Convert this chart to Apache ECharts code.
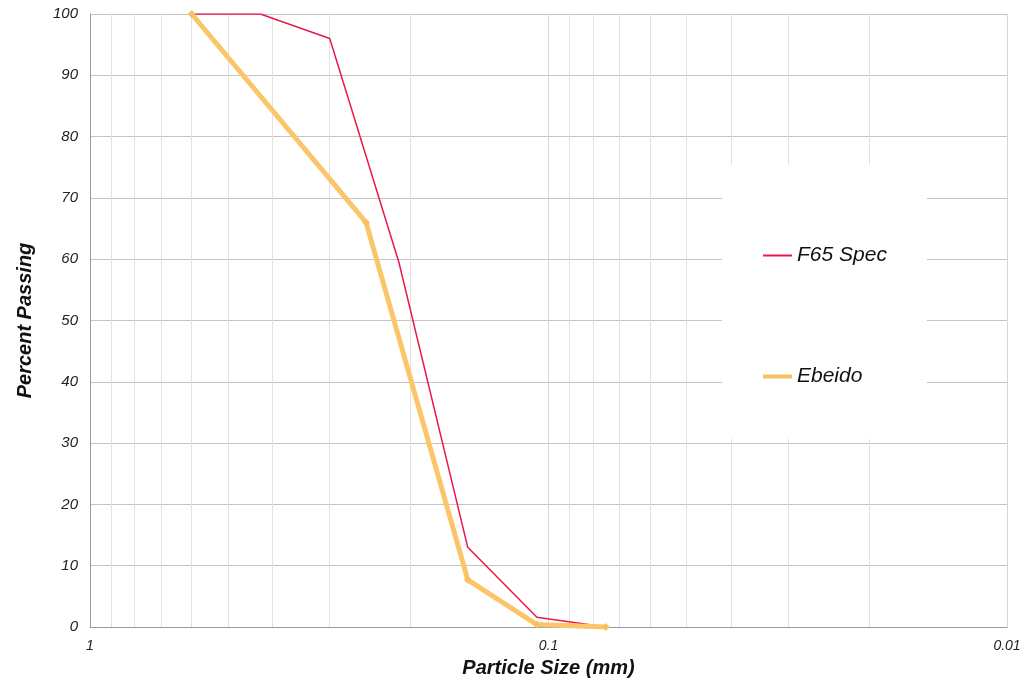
<!DOCTYPE html>
<html>
<head>
<meta charset="utf-8">
<script src="https://cdn.jsdelivr.net/npm/echarts@6/dist/echarts.min.js"></script>
<style>html,body{margin:0;padding:0;background:#fff}#c{width:1034px;height:683px}</style>
</head>
<body>
<div id="c"></div>
<script>
// Sieve sizes (mm) and percent passing
const f65Sizes = [0.6, 0.425, 0.3, 0.212, 0.15, 0.106, 0.075];
const f65Passing = [100, 100, 96, 59.5, 13, 1.6, 0];
const ebeidoSizes = [0.6, 0.25, 0.15, 0.106, 0.075];
const ebeidoPassing = [100, 66, 7.7, 0.4, 0];
// log minor grid lines
const minorGrid = [0.9, 0.8, 0.7, 0.6, 0.5, 0.4, 0.3, 0.2, 0.09, 0.08, 0.07, 0.06, 0.05, 0.04, 0.03, 0.02];
const xTickLabels = [1, 0.1, 0.01];

const font = '"Liberation Sans", Arial, sans-serif';
const chart = echarts.init(document.getElementById('c'));
chart.setOption({
  animation: false,
  backgroundColor: '#fff',
  grid: { left: 90, right: 27, top: 14, bottom: 56 },
  legend: {
    orient: 'vertical',
    left: 722, top: 165,
    backgroundColor: '#fff',
    padding: [80, 40, 52, 41],
    itemGap: 100,
    itemWidth: 29, itemHeight: 14,
    textStyle: { fontFamily: font, fontStyle: 'italic', fontSize: 21, color: '#111' },
    data: [
      { name: 'F65 Spec', icon: 'path://M0,6 L29,6 L29,8 L0,8 Z' },
      { name: 'Ebeido', icon: 'path://M0,5 L29,5 L29,9 L0,9 Z' }
    ]
  },
  xAxis: {
    type: 'log', logBase: 10, min: 0.01, max: 1, inverse: true,
    axisLine: { show: true, lineStyle: { color: '#999', width: 1 } },
    axisTick: { show: false },
    axisLabel: {
      fontFamily: font, fontStyle: 'italic', fontSize: 14, color: '#222', margin: 12,
      formatter: function (v) { return xTickLabels.indexOf(+v.toPrecision(3)) >= 0 ? String(+v.toPrecision(3)) : ''; }
    },
    splitLine: { show: true, lineStyle: { color: '#d6d6d6', width: 1 } },
    name: 'Particle Size (mm)', nameLocation: 'middle', nameGap: 31,
    nameTextStyle: { fontFamily: font, fontStyle: 'italic', fontWeight: 'bold', fontSize: 20, color: '#111' }
  },
  yAxis: {
    type: 'value', min: 0, max: 100, interval: 10,
    axisLine: { show: true, lineStyle: { color: '#999', width: 1 } },
    axisTick: { show: false },
    axisLabel: { fontFamily: font, fontStyle: 'italic', fontSize: 15, color: '#222', margin: 12 },
    splitLine: { show: true, lineStyle: { color: '#c4c4c4', width: 1 } },
    name: 'Percent Passing', nameLocation: 'middle', nameGap: 55,
    nameTextStyle: { fontFamily: font, fontStyle: 'italic', fontWeight: 'bold', fontSize: 20, color: '#111' }
  },
  series: [
    {
      name: 'minor-grid', type: 'line', z: 0, data: [], symbol: 'none',
      markLine: {
        silent: true, symbol: 'none', animation: false, z: 0,
        label: { show: false },
        lineStyle: { color: '#e2e2e2', width: 1, type: 'solid' },
        data: minorGrid.map(v => ({ xAxis: v }))
      }
    },
    {
      name: 'F65 Spec', type: 'line', z: 2,
      data: f65Sizes.map((s, i) => [s, f65Passing[i]]),
      symbol: 'none',
      lineStyle: { color: '#e8194a', width: 1.5 },
      itemStyle: { color: '#e8194a' }
    },
    {
      name: 'Ebeido', type: 'line', z: 3,
      data: ebeidoSizes.map((s, i) => [s, ebeidoPassing[i]]),
      symbol: 'diamond', symbolSize: 8, showSymbol: true,
      lineStyle: { color: '#fbc66a', width: 5 },
      itemStyle: { color: '#f7c25e' }
    }
  ]
});
</script>
</body>
</html>
